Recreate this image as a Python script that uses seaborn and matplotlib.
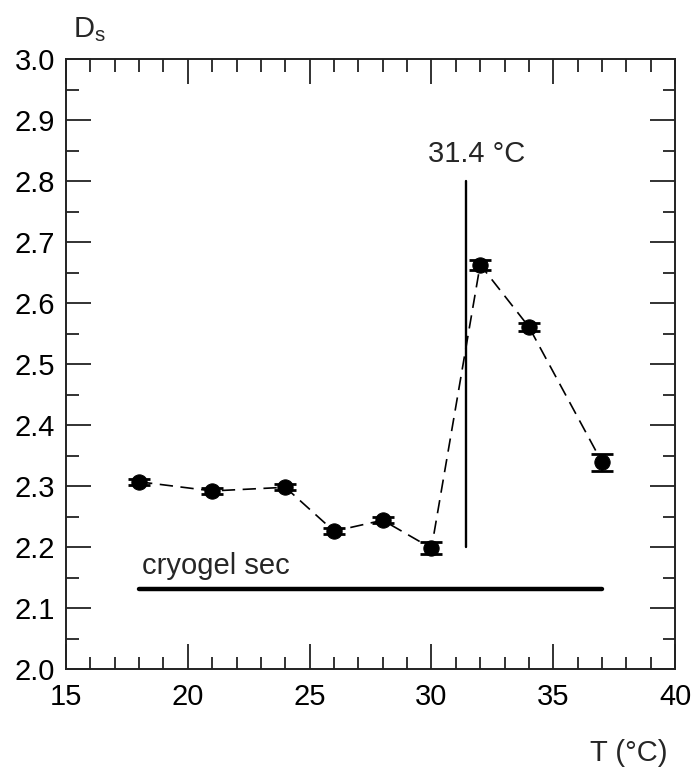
import numpy as np
import pandas as pd
import matplotlib
matplotlib.use("Agg")
import matplotlib.pyplot as plt
import seaborn as sns
from matplotlib.ticker import MultipleLocator, FormatStrFormatter

# Data
temp = [18, 21, 24, 26, 28, 30, 32, 34, 37]
ds = [2.307, 2.292, 2.298, 2.226, 2.244, 2.198, 2.663, 2.561, 2.339]
ds_err = [0.005, 0.005, 0.005, 0.005, 0.005, 0.010, 0.008, 0.007, 0.014]

lcst = 31.4
lcst_range = [2.2, 2.8]
cryogel_y = 2.131
cryogel_x = [18, 37]

df = pd.DataFrame({"T": temp, "Ds": ds, "err": ds_err})

sns.set_style("ticks")
plt.rcParams["font.family"] = ["Liberation Sans", "DejaVu Sans"]

fig = plt.figure(figsize=(6.93, 7.68), dpi=100)
ax = fig.add_axes([0.0952, 0.1289, 0.879, 0.794])

sns.lineplot(data=df, x="T", y="Ds", ax=ax, color="black", lw=1.2,
             linestyle=(0, (8, 4.5)), marker="o", markersize=11,
             markeredgecolor="black", markerfacecolor="black")
ax.errorbar(df["T"], df["Ds"], yerr=df["err"], fmt="none", ecolor="black",
            elinewidth=1.5, capsize=8, capthick=2)

ax.plot([lcst, lcst], lcst_range, color="black", lw=1.7)
ax.text(31.85, 2.831, "31.4 °C", ha="center", va="baseline", fontsize=21)

ax.plot(cryogel_x, [cryogel_y, cryogel_y], color="black", lw=3.2)
ax.text(18.1, 2.156, "cryogel sec", ha="left", va="baseline", fontsize=21)

ax.set_xlim(15, 40)
ax.set_ylim(2.0, 3.0)
ax.xaxis.set_major_locator(MultipleLocator(5))
ax.xaxis.set_minor_locator(MultipleLocator(1))
ax.yaxis.set_major_locator(MultipleLocator(0.1))
ax.yaxis.set_minor_locator(MultipleLocator(0.05))
ax.yaxis.set_major_formatter(FormatStrFormatter("%.1f"))
ax.tick_params(which="both", direction="in", top=True, right=True,
               width=1.3, color="#222222", labelcolor="black")
ax.tick_params(which="major", length=18, labelsize=21)
ax.tick_params(which="minor", length=9)
ax.tick_params(axis="x", which="major", pad=10)
ax.tick_params(axis="y", which="major", pad=8)
for s in ax.spines.values():
    s.set_linewidth(1.4)
    s.set_color("#222222")

ax.set_xlabel("")
ax.set_ylabel("")
fig.text(0.105, 0.952, "D$_\\mathregular{s}$", fontsize=21, ha="left", va="baseline")
fig.text(0.908, 0.009, "T (°C)", fontsize=21, ha="center", va="baseline")

fig.savefig("out.png", dpi=100)
